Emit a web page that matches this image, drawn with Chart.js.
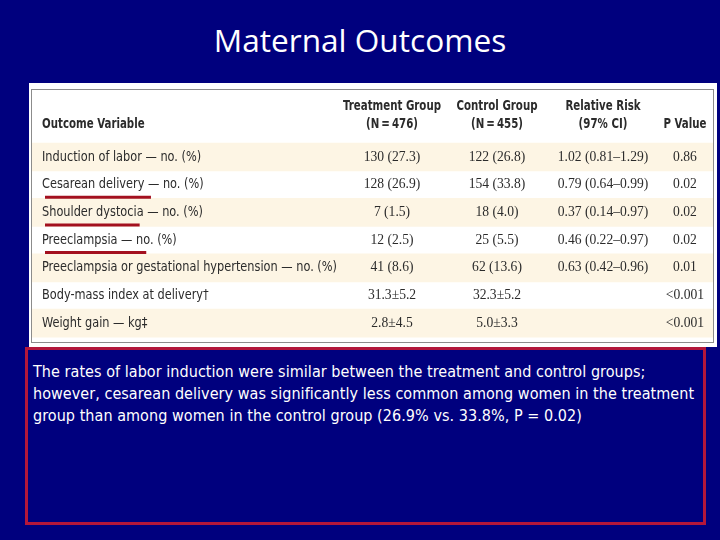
<!DOCTYPE html>
<html>
<head>
<meta charset="utf-8">
<script src="https://cdn.jsdelivr.net/npm/chart.js@4/dist/chart.umd.min.js"></script>
<style>
  html, body { margin: 0; padding: 0; }
  body {
    width: 720px; height: 540px; background: #00007e;
    position: relative; overflow: hidden;
  }
  #title {
    position: absolute; left: 0; top: 22px; width: 720px;
    text-align: center; color: #ffffff;
    font: 31.6px "Open Sans", "DejaVu Sans", sans-serif; line-height: 36px;
  }
  #tableBox {
    position: absolute; left: 29px; top: 83px; width: 688px; height: 264px;
    background: #ffffff;
  }
  #note {
    position: absolute; left: 25px; top: 347px; width: 681px; height: 178px;
    box-sizing: border-box; border: 3px solid #b3173b;
    padding: 11px 0 0 5px; color: #ffffff; white-space: nowrap;
    font: 16px "DejaVu Sans Condensed", sans-serif;
    line-height: 22px; letter-spacing: 0.05px;
  }
</style>
</head>
<body>
<div id="title">Maternal Outcomes</div>
<div id="tableBox"><canvas id="outcomeTable"></canvas></div>
<div id="note">The rates of labor induction were similar between the treatment and control groups;<br>however, cesarean delivery was significantly less common among women in the treatment<br>group than among women in the control group (26.9% vs. 33.8%, P = 0.02)</div>

<script>
// ---------- data ----------
const rowLabels = [
  "Induction of labor \u2014 no. (%)",
  "Cesarean delivery \u2014 no. (%)",
  "Shoulder dystocia \u2014 no. (%)",
  "Preeclampsia \u2014 no. (%)",
  "Preeclampsia or gestational hypertension \u2014 no. (%)",
  "Body-mass index at delivery\u2020",
  "Weight gain \u2014 kg\u2021"
];
const treatmentGroup = ["130 (27.3)", "128 (26.9)", "7 (1.5)", "12 (2.5)", "41 (8.6)", "31.3\u00b15.2", "2.8\u00b14.5"];
const controlGroup = ["122 (26.8)", "154 (33.8)", "18 (4.0)", "25 (5.5)", "62 (13.6)", "32.3\u00b15.2", "5.0\u00b13.3"];
const relativeRisk = ["1.02 (0.81\u20131.29)", "0.79 (0.64\u20130.99)", "0.37 (0.14\u20130.97)", "0.46 (0.22\u20130.97)", "0.63 (0.42\u20130.96)", "", ""];
const pValues = ["0.86", "0.02", "0.02", "0.02", "0.01", "<0.001", "<0.001"];
const columnHeaders = [
  ["", "Outcome Variable"],
  ["Treatment Group", "(N\u2009=\u2009476)"],
  ["Control Group", "(N\u2009=\u2009455)"],
  ["Relative Risk", "(97% CI)"],
  ["", "P Value"]
];
// rows with shaded band, and phrases underlined in red on the slide
const shadedRows = [0, 2, 4, 6];
const underlined = [
  { row: 1, text: "Cesarean delivery " },
  { row: 2, text: "Shoulder dystoci" },
  { row: 3, text: "Preeclampsia \u2014 n" }
];

// ---------- layout (column anchors in px from the table's left edge) ----------
const colX = [11, 361, 466, 572, 654];
const tableWidth = 683;
const headerRows = [-1.805, -1.155];

const labelFont = '14px "DejaVu Sans Condensed", sans-serif';
const labelSquash = 0.9;
const headFont = 'bold 13.4px "DejaVu Sans Condensed", sans-serif';
const headSquash = 0.85;
const numFont = '13.6px "Liberation Serif", "DejaVu Serif", serif';
const inkColor = "#2b2b2b";

function squashedText(ctx, text, px, py, align, sx) {
  ctx.save();
  ctx.translate(px, py);
  ctx.scale(sx, 1);
  ctx.textAlign = align;
  ctx.fillText(text, 0, 0);
  ctx.restore();
}

// draws frame, cell texts and red underlines from the scales
const tablePlugin = {
  id: "tableText",
  afterDatasetsDraw(chart) {
    const { ctx, chartArea, scales } = chart;
    const x = scales.x, y = scales.y;
    ctx.save();
    ctx.strokeStyle = "#8c8c8c";
    ctx.lineWidth = 1;
    ctx.strokeRect(chartArea.left + 0.5, chartArea.top + 0.5,
      chartArea.right - chartArea.left - 1, chartArea.bottom - chartArea.top - 1);

    ctx.fillStyle = inkColor;
    ctx.textBaseline = "middle";

    // headers
    ctx.font = headFont;
    columnHeaders.forEach((lines, c) => {
      lines.forEach((t, i) => {
        if (t) squashedText(ctx, t, x.getPixelForValue(colX[c]), y.getPixelForValue(headerRows[i]),
          c === 0 ? "left" : "center", headSquash);
      });
    });

    // body
    const cols = [treatmentGroup, controlGroup, relativeRisk, pValues];
    rowLabels.forEach((label, r) => {
      const py = y.getPixelForValue(r);
      ctx.font = labelFont;
      squashedText(ctx, label, x.getPixelForValue(colX[0]), py, "left", labelSquash);
      ctx.font = numFont;
      ctx.textAlign = "center";
      cols.forEach((col, c) => {
        if (col[r]) ctx.fillText(col[r], x.getPixelForValue(colX[c + 1]), py);
      });
    });

    // red underlines
    ctx.font = labelFont;
    ctx.strokeStyle = "#a3101f";
    ctx.lineWidth = 3;
    underlined.forEach((u) => {
      const x0 = x.getPixelForValue(colX[0]) + 3;
      const w = ctx.measureText(u.text).width * labelSquash;
      const py = y.getPixelForValue(u.row) + 12.5;
      ctx.beginPath();
      ctx.moveTo(x0, py);
      ctx.lineTo(x0 + w, py);
      ctx.stroke();
    });
    ctx.restore();
  }
};

new Chart(document.getElementById("outcomeTable"), {
  type: "bar",
  data: {
    datasets: [{
      data: shadedRows.map((r) => ({ y: r, x: [0, tableWidth] })),
      backgroundColor: "#fdf5e4",
      borderWidth: 0,
      barThickness: 28
    }]
  },
  options: {
    indexAxis: "y",
    responsive: true,
    maintainAspectRatio: false,
    animation: false,
    events: [],
    layout: { padding: { left: 2, top: 6, right: 3, bottom: 4 } },
    plugins: { legend: { display: false }, tooltip: { enabled: false } },
    scales: {
      x: { type: "linear", min: 0, max: tableWidth, display: false },
      y: { type: "linear", min: -2.455, max: 6.715, reverse: true, offset: false, display: false }
    }
  },
  plugins: [tablePlugin]
});
</script>
</body>
</html>
